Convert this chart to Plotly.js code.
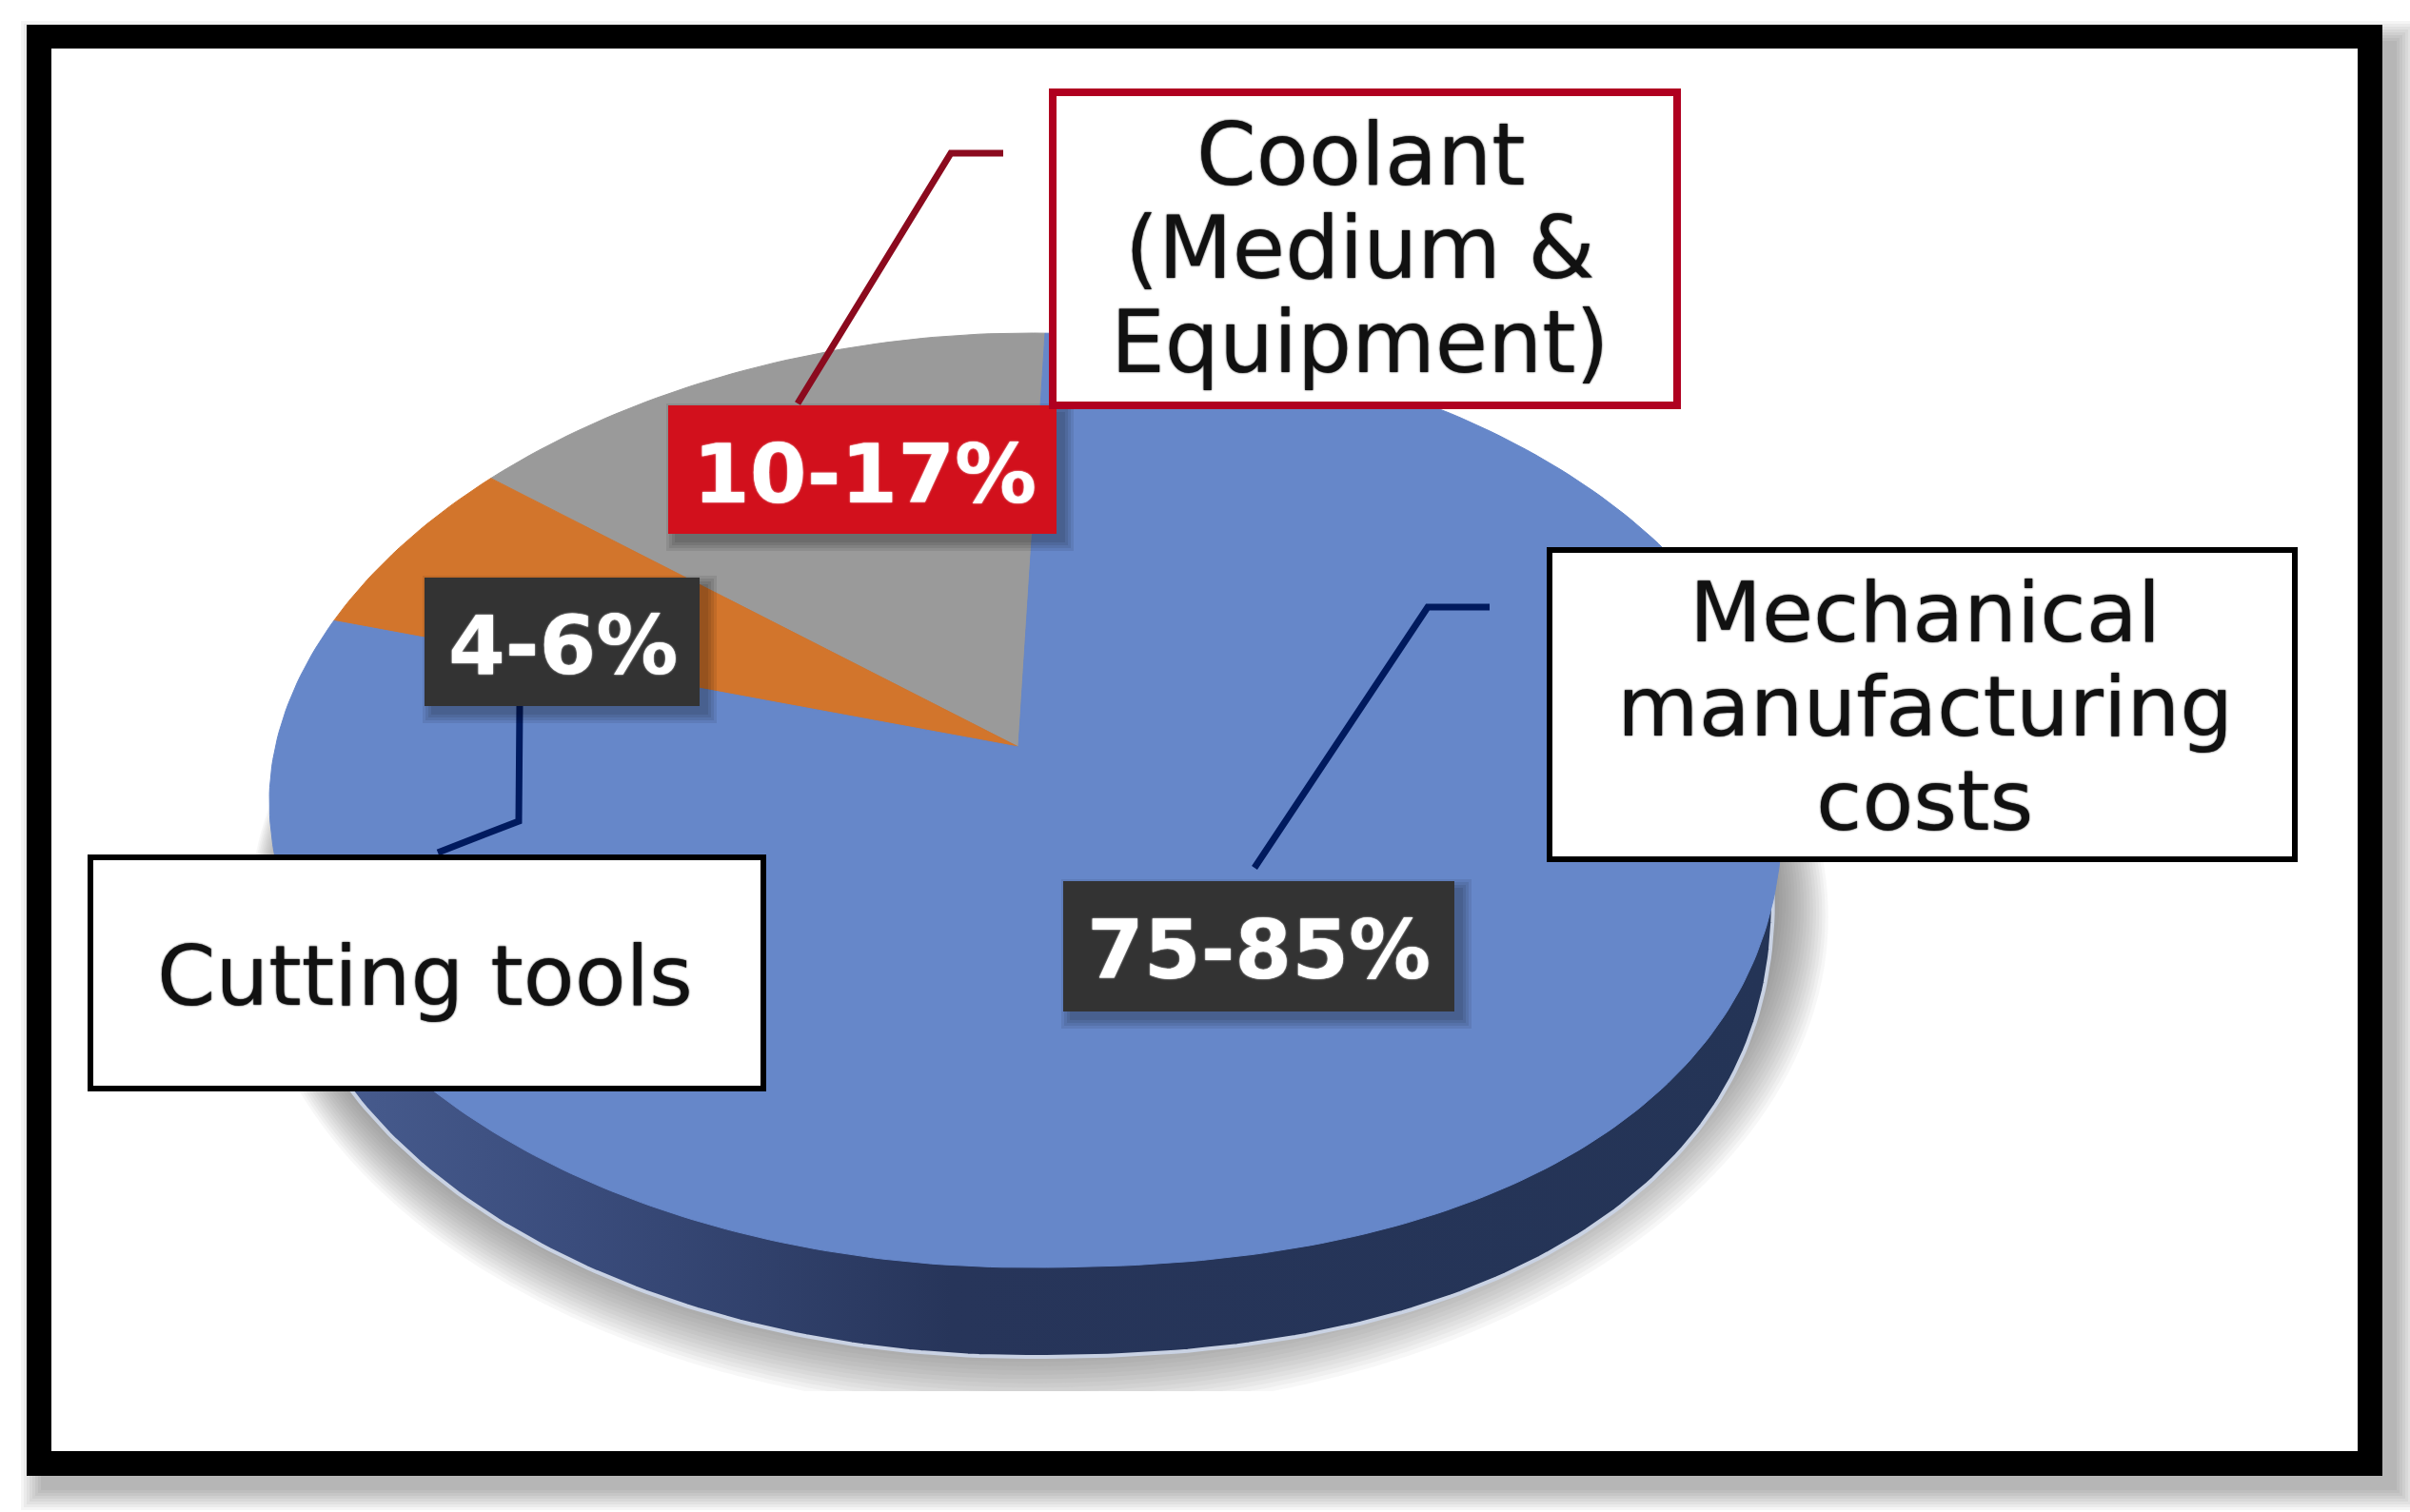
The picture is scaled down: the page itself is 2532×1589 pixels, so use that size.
<!DOCTYPE html>
<html>
<head>
<meta charset="utf-8">
<title>Machining cost shares</title>
<script src="https://cdn.plot.ly/plotly-3.0.1.min.js"></script>
<style>
    html, body { margin: 0; padding: 0; background: #fff; }
    #chart { width: 2532px; height: 1589px; }
</style>
</head>
<body>
<div id="chart"></div>
<script>
    // Slices run counter-clockwise from just right of 12 o'clock
    const sliceNames = ['Coolant (Medium & Equipment)', 'Cutting tools', 'Mechanical manufacturing costs'];
    const sliceShares = [13.1, 5.8, 81.1];
    const sliceColors = ['#9a9a9a', '#d2752c', '#6687c9'];
    const shareLabels = ['10-17%', '4-6%', '75-85%'];
    const coolantLines = ['Coolant', '(Medium &', 'Equipment)'];
    const mechanicalLines = ['Mechanical', 'manufacturing', 'costs'];
    const toolsLines = ['Cutting tools'];

    // Pie geometry in page pixels (the axes below map 1:1 to the page)
    const pie = { cx: 1078, cy: 841, rx: 795, ry: 491, apexX: 1070, apexY: 785, depth: 94, startShare: -0.4 };

    function rimPoint(share, rx, dy) {
        const a = share * 3.6 * Math.PI / 180;
        const ux = -Math.sin(a);
        const uy = -Math.cos(a);
        // tilted disc: lower right bulges a bit, upper left is a bit flatter than an ellipse
        let e = 1;
        if (ux > 0 && uy > 0) e = 2 / 2.3;
        if (ux < 0 && uy < 0) e = 2 / 1.93;
        return [
            pie.cx + rx * Math.sign(ux) * Math.pow(Math.abs(ux), e),
            pie.cy + dy + pie.ry * Math.sign(uy) * Math.pow(Math.abs(uy), e)
        ];
    }

    function rimPath(from, to, rx, dy) {
        const xs = [];
        const ys = [];
        for (let s = from; s < to; s += 0.25) {
            const p = rimPoint(s, rx, dy);
            xs.push(p[0]);
            ys.push(p[1]);
        }
        const last = rimPoint(to, rx, dy);
        xs.push(last[0]);
        ys.push(last[1]);
        return [xs, ys];
    }

    const traces = [];

    // Side wall of the disc
    const wall = rimPath(0, 100, 785, pie.depth);
    traces.push({
        x: wall[0], y: wall[1], type: 'scatter', mode: 'lines', fill: 'toself',
        line: { color: '#c9d2e3', width: 4 },
        fillgradient: {
            type: 'horizontal',
            colorscale: [[0, '#4a5f92'], [0.2, '#3a4c7c'], [0.45, '#27355a'], [1, '#243456']]
        },
        hoverinfo: 'skip'
    });

    // Top face, one wedge per slice
    let start = pie.startShare;
    sliceShares.forEach(function (share, i) {
        const rim = rimPath(start, start + share, pie.rx, 0);
        traces.push({
            x: [pie.apexX].concat(rim[0], [pie.apexX]),
            y: [pie.apexY].concat(rim[1], [pie.apexY]),
            type: 'scatter', mode: 'lines', fill: 'toself', fillcolor: sliceColors[i],
            line: { color: sliceColors[i], width: 1 },
            name: sliceNames[i], hoverinfo: 'skip'
        });
        start += share;
    });

    const shapes = [];

    function rect(x0, y0, x1, y1, fill, lineColor, lineWidth, layer, opacity) {
        shapes.push({
            type: 'rect', xref: 'x', yref: 'y', x0: x0, y0: y0, x1: x1, y1: y1,
            fillcolor: fill, layer: layer || 'above', opacity: opacity === undefined ? 1 : opacity,
            line: { color: lineColor || fill, width: lineWidth || 0 }
        });
    }

    function softRect(x0, y0, x1, y1, spread, off, strength, layer) {
        for (let i = spread; i > 0; i -= 3) {
            rect(x0 + off - i, y0 + off - i, x1 + off + i, y1 + off + i, '#000', null, 0, layer, strength);
        }
    }

    function leader(d, color) {
        shapes.push({ type: 'path', xref: 'x', yref: 'y', path: d, layer: 'above', line: { color: color, width: 7 } });
    }

    // Picture frame with its drop shadow
    softRect(34, 34, 2503, 1551, 24, 12, 0.04, 'below');
    rect(28, 26, 2503, 1551, '#000', null, 0, 'below');
    rect(54, 51, 2477, 1525, '#fff', null, 0, 'below');

    // Soft shadow under the disc, cut flat at the bottom
    for (let i = 0; i < 20; i++) {
        shapes.push({
            type: 'circle', xref: 'x', yref: 'y', layer: 'below', opacity: 0.05,
            x0: 300 - i * 2, x1: 1860 + i * 3.2, y0: 480 - i * 2, y1: 1400 + i * 4.5,
            fillcolor: '#5a5a5a', line: { width: 0 }
        });
    }
    rect(54, 1462, 2477, 1525, '#fff', null, 0, 'below');

    // Leader lines
    leader('M838,424 L999,161 L1054,161', '#8b0a1e');
    leader('M546,742 L545,863 L460,896', '#001a5e');
    leader('M1565,638 L1500,638 L1318,912', '#001a5e');

    // Value tags
    softRect(702, 426, 1110, 561, 10, 8, 0.08);
    rect(702, 426, 1110, 561, '#d2101c');
    softRect(446, 607, 735, 742, 10, 8, 0.08);
    rect(446, 607, 735, 742, '#333333');
    softRect(1117, 926, 1528, 1063, 10, 8, 0.08);
    rect(1117, 926, 1528, 1063, '#333333');

    // Name boxes
    rect(1106, 97, 1762, 426, '#fff', '#b00020', 8);
    rect(95, 901, 802, 1144, '#fff', '#000', 6);
    rect(1628, 578, 2411, 903, '#fff', '#000', 6);

    const annotations = [];

    function label(text, x, y, size, color, family, shadow) {
        annotations.push({
            text: text, x: x, y: y, xref: 'x', yref: 'y', showarrow: false,
            xanchor: 'center', yanchor: 'middle',
            font: { family: family, size: size, color: color, shadow: shadow }
        });
    }

    const nameFont = '"DejaVu Sans", sans-serif';
    const valueFont = '"DejaVu Sans", sans-serif';
    const nameShadow = '0 0 2px #111';
    const valueShadow = '0 0 2px #fff';

    coolantLines.forEach(function (t, i) { label(t, 1429, 162 + i * 98.5, 90, '#111', nameFont, nameShadow); });
    mechanicalLines.forEach(function (t, i) { label(t, 2022, 643 + i * 99, 88, '#111', nameFont, nameShadow); });
    toolsLines.forEach(function (t) { label(t, 446, 1025, 88, '#111', nameFont, nameShadow); });

    label('<b>' + shareLabels[0] + '</b>', 908, 498, 86, '#fff', valueFont, valueShadow);
    label('<b>' + shareLabels[1] + '</b>', 592, 678, 86, '#fff', valueFont, valueShadow);
    label('<b>' + shareLabels[2] + '</b>', 1322, 998, 86, '#fff', valueFont, valueShadow);

    const layout = {
        width: 2532,
        height: 1589,
        margin: { l: 0, r: 0, t: 0, b: 0 },
        paper_bgcolor: '#fff',
        plot_bgcolor: 'rgba(0,0,0,0)',
        showlegend: false,
        xaxis: { range: [0, 2532], visible: false, fixedrange: true },
        yaxis: { range: [1589, 0], visible: false, fixedrange: true },
        shapes: shapes,
        annotations: annotations
    };

    Plotly.newPlot('chart', traces, layout, { displayModeBar: false, staticPlot: true });
</script>
</body>
</html>
